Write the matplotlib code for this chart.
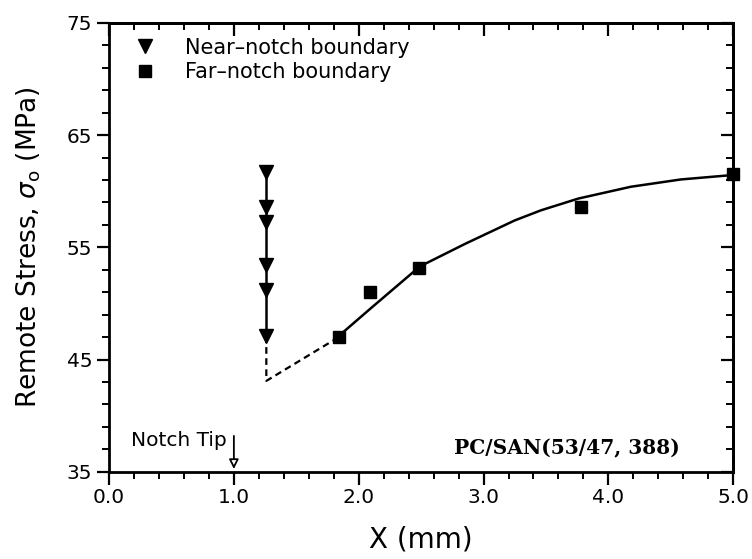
import numpy as np
import matplotlib.pyplot as plt

# near-notch boundary (triangles), all at the same x
near_x = [1.26, 1.26, 1.26, 1.26, 1.26, 1.26]
near_y = [61.7, 58.6, 57.3, 53.4, 51.2, 47.1]

# far-notch boundary (squares)
far_x = [1.84, 2.09, 2.48, 3.78, 5.0]
far_y = [47.0, 51.0, 53.2, 58.6, 61.5]

# fitted curve through the far-notch points
fit_x = [1.84, 2.1, 2.49, 2.85, 3.25, 3.46, 3.76, 4.18, 4.58, 5.0]
fit_y = [47.1, 49.6, 53.3, 55.3, 57.4, 58.3, 59.35, 60.4, 61.05, 61.45]

# dashed extrapolation down to the corner
dash_x = [1.26, 1.26, 1.84]
dash_y = [47.1, 43.1, 47.0]

notch_tip_x = 1.0

plt.rcParams['font.family'] = ['DejaVu Sans']

fig = plt.figure(figsize=(7.52, 5.59), dpi=100)
ax = fig.add_axes([0.145, 0.156, 0.83, 0.803])

ax.plot(near_x, near_y, color='black', lw=1.8)
ax.plot(fit_x, fit_y, color='black', lw=1.8)
ax.plot(dash_x, dash_y, color='black', lw=1.6, ls=(0, (3, 2)))
ax.plot(near_x, near_y, 'v', color='black', ms=10, label='Near\u2013notch boundary')
ax.plot(far_x, far_y, 's', color='black', ms=8.5, clip_on=False, label='Far\u2013notch boundary')

ax.set_xlim(0, 5)
ax.set_ylim(35, 75)
ax.set_xticks(np.arange(0, 5.01, 1.0))
ax.set_xticklabels(['%.1f' % v for v in np.arange(0, 5.01, 1.0)])
ax.set_xticks(np.arange(0, 5.01, 0.2), minor=True)
ax.set_yticks([35, 45, 55, 65, 75])
ax.set_yticks(np.arange(35, 75.1, 2), minor=True)

ax.tick_params(which='major', direction='out', length=9, width=1.6, labelsize=14.5, pad=3)
ax.tick_params(which='minor', direction='out', length=5, width=1.4)
for s in ax.spines.values():
    s.set_linewidth(2)

top = ax.secondary_xaxis('top')
top.set_xticks(np.arange(0, 5.01, 1.0))
top.set_xticks(np.arange(0, 5.01, 0.2), minor=True)
top.tick_params(which='major', direction='in', length=9, width=1.6, labeltop=False)
top.tick_params(which='minor', direction='in', length=5, width=1.4)
top.spines['top'].set_linewidth(2)

right = ax.secondary_yaxis('right')
right.set_yticks([35, 45, 55, 65, 75])
right.set_yticks(np.arange(35, 75.1, 2), minor=True)
right.tick_params(which='major', direction='in', length=9, width=1.6, labelright=False)
right.tick_params(which='minor', direction='in', length=5, width=1.4)
right.spines['right'].set_linewidth(2)

ax.set_xlabel('X (mm)', fontsize=20, labelpad=13)
ax.set_ylabel(r'Remote Stress, $\sigma_{\mathrm{o}}$ (MPa)', fontsize=19, labelpad=17)

ax.legend(loc='upper left', bbox_to_anchor=(0.01, 1.0), frameon=False, fontsize=15,
          handletextpad=1.15, handlelength=1.5, labelspacing=0.22, borderaxespad=0.3)

ax.annotate('', xy=(notch_tip_x, 35.25), xytext=(notch_tip_x, 38.2),
            arrowprops=dict(arrowstyle='-|>', fc='white', ec='black', lw=1.3,
                            mutation_scale=14, shrinkA=0, shrinkB=0))
ax.text(0.945, 37.8, 'Notch Tip', ha='right', va='center', fontsize=14.5)

ax.text(4.57, 37.05, 'PC/SAN(53/47, 388)', ha='right', va='center',
        fontsize=14.5, fontweight='bold', family='DejaVu Serif')

fig.savefig('out.png', dpi=100)
